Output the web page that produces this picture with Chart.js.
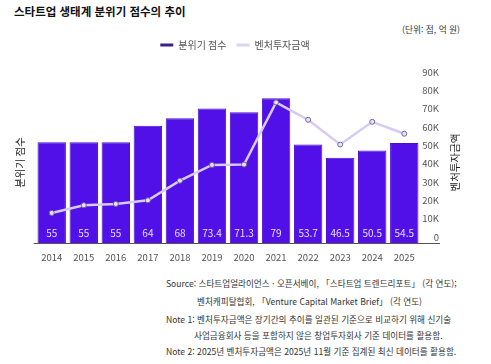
<!DOCTYPE html>
<html lang="ko">
<head>
  <meta charset="UTF-8">
  <title>스타트업 생태계 분위기 점수의 추이</title>
  <script src="https://cdn.jsdelivr.net/npm/chart.js"></script>
  <style>
    body { margin: 0; background: #fff; font-family: 'Noto Sans CJK KR', sans-serif; }
    #wrap { position: relative; width: 491px; height: 364px; overflow: hidden; }
    #title { position: absolute; left: 14px; top: 3px; font-size: 11.5px; font-weight: bold; color: #111; }
    #unit { position: absolute; right: 31px; top: 23px; font-size: 8.7px; color: #333; }
    #box { position: absolute; left: 0; top: 30px; width: 491px; height: 240px; }
    .note { position: absolute; font-size: 8.6px; color: #333; white-space: nowrap; }
  </style>
</head>
<body>
<div id="wrap">
  <div id="title">스타트업 생태계 분위기 점수의 추이</div>
  <div id="unit">(단위: 점, 억 원)</div>
  <div id="box"><canvas id="chart"></canvas></div>
  <div class="note" style="left:166px; top:277px">Source: 스타트업얼라이언스 · 오픈서베이, 「스타트업 트렌드리포트」 (각 연도);</div>
  <div class="note" style="left:197px; top:295px">벤처캐피탈협회, 「Venture Capital Market Brief」 (각 연도)</div>
  <div class="note" style="left:166px; top:313px">Note 1: 벤처투자금액은 장기간의 추이를 일관된 기준으로 비교하기 위해 신기술</div>
  <div class="note" style="left:194px; top:329px">사업금융회사 등을 포함하지 않은 창업투자회사 기준 데이터를 활용함.</div>
  <div class="note" style="left:166px; top:345px">Note 2: 2025년 벤처투자금액은 2025년 11월 기준 집계된 최신 데이터를 활용함.</div>
</div>

<script>
  const years = ['2014','2015','2016','2017','2018','2019','2020','2021','2022','2023','2024','2025'];
  const moodScore = [55, 55, 55, 64, 68, 73.4, 71.3, 79, 53.7, 46.5, 50.5, 54.5];
  const ventureInvest = [16400, 20600, 21300, 23300, 34000, 42600, 42800, 76700, 67200, 53700, 66100, 59600];
  const seriesNames = ['분위기 점수', '벤처투자금액'];
  const legendColors = ['#3d1d92', '#ddd3f2'];

  const FONT = "'Noto Sans CJK KR', sans-serif";

  // 막대 안쪽 값 라벨, 축 제목, 기준선
  const extras = {
    id: 'extras',
    beforeInit(chart) {
      const fit = chart.legend.fit;
      chart.legend.fit = function () { fit.call(this); this.height = 48; };
    },
    afterLayout(chart) {
      // 범례를 원본처럼 오른쪽으로 조금 이동
      chart.legend.left += 15.5;
      chart.legend.right += 15.5;
    },
    afterDatasetsDraw(chart) {
      const ctx = chart.ctx;
      const meta = chart.getDatasetMeta(0);
      const bottom = chart.scales.x.top;
      ctx.save();
      ctx.font = '10px ' + FONT;
      ctx.fillStyle = '#e9e2ff';
      ctx.textAlign = 'center';
      ctx.textBaseline = 'middle';
      meta.data.forEach((bar, i) => {
        ctx.fillText(String(moodScore[i]), bar.x, bottom - 9.5);
      });
      ctx.restore();
    },
    afterDraw(chart) {
      const ctx = chart.ctx;
      const area = chart.chartArea;
      ctx.save();
      ctx.strokeStyle = '#555';
      ctx.lineWidth = 1;
      ctx.beginPath();
      ctx.moveTo(area.left - 2, area.bottom + 0.5);
      ctx.lineTo(440, area.bottom + 0.5);
      ctx.stroke();

      ctx.font = '10.5px ' + FONT;
      ctx.fillStyle = '#222';
      ctx.textAlign = 'center';
      ctx.textBaseline = 'middle';
      const mid = (area.top + area.bottom) / 2 + 2;
      ctx.translate(20, mid);
      ctx.rotate(-Math.PI / 2);
      ctx.fillText('분위기 점수', 0, 0);
      ctx.restore();

      ctx.save();
      ctx.font = '10.5px ' + FONT;
      ctx.fillStyle = '#222';
      ctx.textAlign = 'center';
      ctx.textBaseline = 'middle';
      ctx.translate(455, mid);
      ctx.rotate(-Math.PI / 2);
      ctx.fillText('벤처투자금액', 0, 0);
      ctx.restore();
    }
  };

  new Chart(document.getElementById('chart'), {
    data: {
      labels: years,
      datasets: [
        {
          type: 'bar',
          label: seriesNames[0],
          data: moodScore,
          yAxisID: 'y',
          backgroundColor: '#5110e8',
          borderColor: '#4a0fd6',
          borderWidth: 1,
          categoryPercentage: 1,
          barPercentage: 0.886,
          order: 2
        },
        {
          type: 'line',
          label: seriesNames[1],
          data: ventureInvest,
          yAxisID: 'y1',
          borderColor: '#d7cbf3',
          borderWidth: 2.5,
          pointRadius: 2.5,
          pointBackgroundColor: '#e8e1fa',
          pointBorderColor: '#6f6892',
          pointBorderWidth: 1,
          tension: 0,
          order: 1
        }
      ]
    },
    options: {
      responsive: true,
      maintainAspectRatio: false,
      animation: false,
      layout: { padding: { top: 0, bottom: 7, left: 0, right: 52 } },
      plugins: {
        tooltip: { enabled: false },
        legend: {
          position: 'top',
          labels: {
            font: { family: FONT, size: 10 },
            color: '#555',
            usePointStyle: true,
            pointStyleWidth: 13,
            boxHeight: 10,
            padding: 10,
            sort: (a, b) => a.datasetIndex - b.datasetIndex,
            generateLabels: chart => chart.data.datasets.map((ds, i) => ({
              text: ds.label,
              fillStyle: legendColors[i],
              strokeStyle: legendColors[i],
              lineWidth: 3,
              pointStyle: 'line',
              fontColor: '#555',
              hidden: false,
              datasetIndex: i
            }))
          }
        }
      },
      scales: {
        x: {
          grid: { display: false, drawTicks: false },
          border: { display: false },
          ticks: { font: { family: FONT, size: 9.5 }, color: '#555', padding: 9 },
          afterFit: s => { s.height = 20; }
        },
        y: {
          position: 'left',
          min: 0, max: 90,
          grid: { display: false, drawTicks: false },
          border: { display: false },
          ticks: { display: false },
          afterFit: s => { s.width = 35.7; }
        },
        y1: {
          position: 'right',
          min: 0, max: 90000,
          grid: { display: false, drawTicks: false },
          border: { display: false },
          ticks: {
            stepSize: 10000,
            font: { family: FONT, size: 9.5 },
            color: '#555',
            crossAlign: 'far',
            padding: 0,
            labelOffset: -6,
            callback: v => v === 0 ? '0' : (v / 1000) + 'K'
          },
          afterFit: s => { s.width = 18.7; }
        }
      }
    },
    plugins: [extras]
  });
</script>
</body>
</html>
